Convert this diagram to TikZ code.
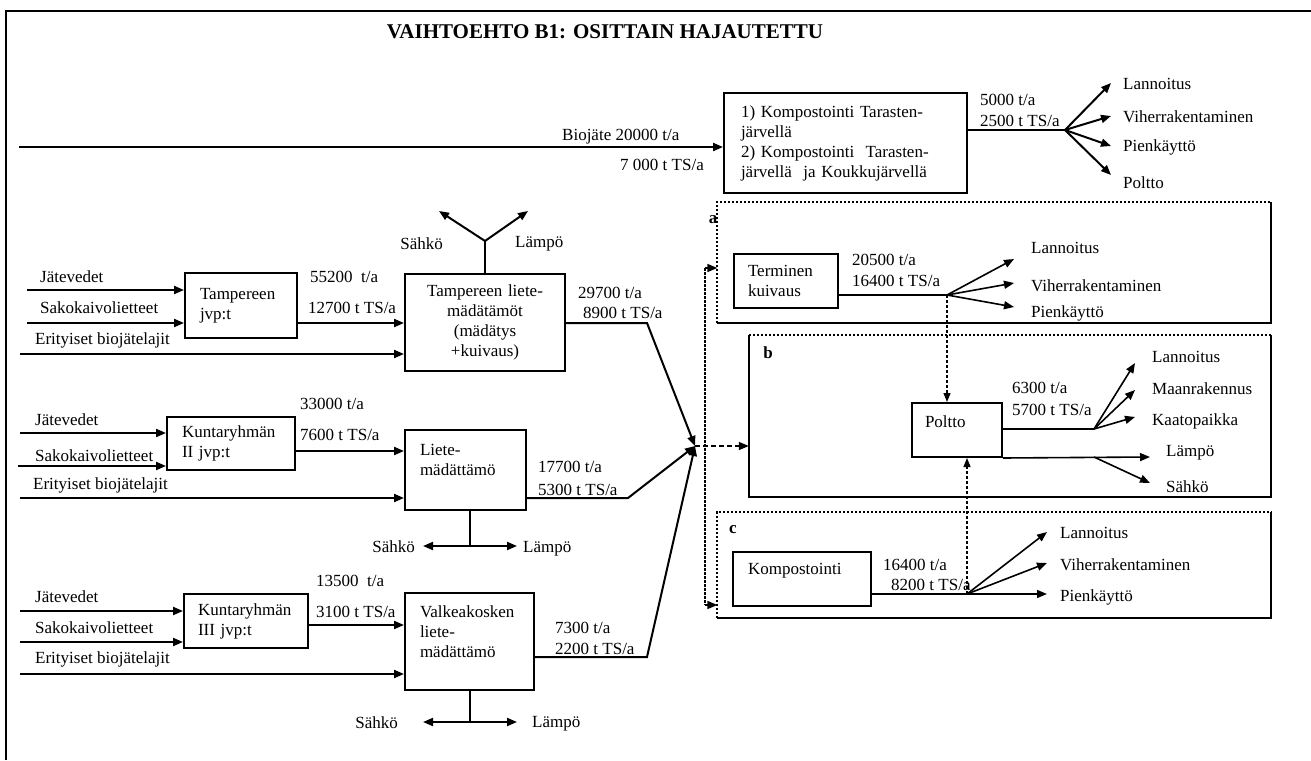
\documentclass[tikz,border=0pt]{standalone}
\usepackage{fontspec}
\setmainfont{Liberation Serif}
\usetikzlibrary{arrows.meta}
\newcommand{\lbl}{\fontsize{17}{20}\selectfont}
\tikzset{
  box/.style={draw, line width=2pt, inner ysep=0pt, font=\lbl, align=left},
  frm/.style={draw=none, inner sep=0pt},
  ln/.style={line width=2pt},
  fline/.style={line width=1.8pt},
  arr/.style={line width=2pt, -{Triangle[length=10pt,width=8pt]}},
  dbl/.style={line width=2pt, {Triangle[length=10pt,width=8pt]}-{Triangle[length=10pt,width=8pt]}},
  thin arr/.style={line width=1.6pt, -{Triangle[length=10pt,width=8pt]}},
  txt/.style={font=\lbl, inner sep=0pt},
  dots/.style={line width=1.8pt, dash pattern=on 2.5pt off 1.5pt},
  dot arr/.style={line width=1.2pt, dash pattern=on 3pt off 2pt, -{Triangle[length=9pt,width=7pt]}},
  dash arr/.style={line width=1.5pt, dash pattern=on 5pt off 3pt, -{Triangle[length=10pt,width=8pt]}},
}
\begin{document}
\begin{tikzpicture}[x=1pt,y=-1pt]
\useasboundingbox (0,0) rectangle (1311,760);
\draw[line width=2.5pt] (6,760) -- (6,11) -- (1311,11);
\node[font=\fontsize{21}{24}\selectfont\bfseries, inner sep=0pt] (title) at (605,32) {VAIHTOEHTO B1: OSITTAIN HAJAUTETTU};

% biojate
\node[box, minimum width=243, minimum height=100, text width=209, inner xsep=17] (komp) at (845.5,143)
  {1) Kompostointi Tarasten-\\järvellä\\2) Kompostointi \ Tarasten-\\järvellä \ ja Koukkujärvellä};
\coordinate (bio) at (19,147);
\draw[arr] (bio) -- (bio -| komp.west);
\node[txt, anchor=west] (bio1) at (562,137) {Biojäte 20000 t/a};
\node[txt, anchor=east] (bio2) at (704,165) {7 000 t TS/a};
\coordinate (ft) at (1065,130);
\draw[ln] (ft -| komp.east) -- (ft);
\node[txt, anchor=west] (ft1) at (980,100) {5000 t/a};
\node[txt, anchor=west] (ft2) at (980,121) {2500 t TS/a};
\coordinate (fta) at (1111,83);
\coordinate (ftb) at (1111,116);
\coordinate (ftc) at (1111,146);
\coordinate (ftd) at (1111,175);
\draw[arr] (ft) -- (fta);
\draw[arr] (ft) -- (ftb);
\draw[arr] (ft) -- (ftc);
\draw[arr] (ft) -- (ftd);
\node[txt, anchor=west] (fla) at (1123,84) {Lannoitus};
\node[txt, anchor=west] (flb) at (1123,117) {Viherrakentaminen};
\node[txt, anchor=west] (flc) at (1123,147) {Pienkäyttö};
\node[txt, anchor=west] (fld) at (1123,183) {Poltto};

% tampere
\node[box, minimum width=112, minimum height=65, text width=82, inner xsep=15] (tjvp) at (241,305.5) {Tampereen\\jvp:t};
\node[box, minimum width=160, minimum height=97, text width=150, inner xsep=5, align=center] (tliete) at (485,322.5)
  {Tampereen liete-\\mädätämöt\\(mädätys\\+kuivaus)};
\coordinate (tj) at (27,290);
\coordinate (ts) at (27,323);
\coordinate (te) at (20,354);
\draw[arr] (tj) -- (tj -| tjvp.west);
\draw[arr] (ts) -- (ts -| tjvp.west);
\draw[arr] (te) -- (te -| tliete.west);
\draw[arr] (tjvp.east |- ts) -- (ts -| tliete.west);
\node[txt, anchor=west] (tjl) at (40,277) {Jätevedet};
\node[txt, anchor=west] (tsl) at (40,308) {Sakokaivolietteet};
\node[txt, anchor=west] (tel) at (35,340) {Erityiset biojätelajit};
\node[txt, anchor=west] (tm1) at (310,277) {55200 \ t/a};
\node[txt, anchor=west] (tm2) at (308,308) {12700 t TS/a};
\coordinate (tst) at (485,241);
\coordinate (tsa) at (439,211);
\coordinate (tsb) at (528,211);
\draw[ln] (tliete.north) -- (tst);
\draw[arr] (tst) -- (tsa);
\draw[arr] (tst) -- (tsb);
\node[txt, anchor=east] (tsah) at (443,244) {Sähkö};
\node[txt, anchor=west] (tlam) at (515,244) {Lämpö};
\node[txt, anchor=west] (to1) at (578,293) {29700 t/a};
\node[txt, anchor=west] (to2) at (583,313) {8900 t TS/a};

% kuntaryhma II
\node[box, minimum width=128, minimum height=53, text width=98, inner xsep=15] (k2) at (231,443.5) {Kuntaryhmän\\II jvp:t};
\node[box, minimum width=121, minimum height=80, text width=91, inner xsep=15] (liete2) at (465.5,470) {Liete-\\mädättämö\\\mbox{}};
\coordinate (k2j) at (20,433);
\coordinate (k2s) at (18,466);
\coordinate (k2e) at (20,498);
\coordinate (k2o) at (0,451);
\draw[arr] (k2j) -- (k2j -| k2.west);
\draw[arr] (k2s) -- (k2s -| k2.west);
\draw[arr] (k2e) -- (k2e -| liete2.west);
\draw[arr] (k2.east |- k2o) -- (liete2.west |- k2o);
\node[txt, anchor=west] (k2jl) at (35,420) {Jätevedet};
\node[txt, anchor=west] (k2sl) at (35,456) {Sakokaivolietteet};
\node[txt, anchor=west] (k2el) at (33,485) {Erityiset biojätelajit};
\node[txt, anchor=west] (k2m1) at (300,404) {33000 t/a};
\node[txt, anchor=west] (k2m2) at (300,435) {7600 t TS/a};
\coordinate (s2) at (470,546);
\coordinate (s2l) at (423,546);
\coordinate (s2r) at (517,546);
\draw[ln] (s2 |- liete2.south) -- (s2);
\draw[dbl] (s2l) -- (s2r);
\node[txt, anchor=east] (s2sah) at (415,547) {Sähkö};
\node[txt, anchor=west] (s2lam) at (523,549) {Lämpö};
\node[txt, anchor=west] (l2o1) at (538,467) {17700 t/a};
\node[txt, anchor=west] (l2o2) at (538,490) {5300 t TS/a};

% kuntaryhma III
\node[box, minimum width=124, minimum height=54, text width=96, inner xsep=14] (k3) at (246,621) {Kuntaryhmän\\III jvp:t};
\node[box, minimum width=129, minimum height=97, text width=99, inner xsep=15] (valk) at (469.5,641.5) {Valkeakosken\\liete-\\mädättämö\\\mbox{}};
\coordinate (k3j) at (20,611);
\coordinate (k3s) at (20,642);
\coordinate (k3e) at (20,674);
\coordinate (k3o) at (0,625);
\draw[arr] (k3j) -- (k3j -| k3.west);
\draw[arr] (k3s) -- (k3s -| k3.west);
\draw[arr] (k3e) -- (k3e -| valk.west);
\draw[arr] (k3.east |- k3o) -- (valk.west |- k3o);
\node[txt, anchor=west] (k3jl) at (35,597) {Jätevedet};
\node[txt, anchor=west] (k3sl) at (35,628) {Sakokaivolietteet};
\node[txt, anchor=west] (k3el) at (35,659) {Erityiset biojätelajit};
\node[txt, anchor=west] (k3m1) at (316,581) {13500 \ t/a};
\node[txt, anchor=west] (k3m2) at (316,612) {3100 t TS/a};
\coordinate (s3) at (470,722);
\coordinate (s3l) at (423,722);
\coordinate (s3r) at (517,722);
\draw[ln] (s3 |- valk.south) -- (s3);
\draw[dbl] (s3l) -- (s3r);
\node[txt, anchor=east] (s3sah) at (398,723) {Sähkö};
\node[txt, anchor=west] (s3lam) at (532,724) {Lämpö};
\node[txt, anchor=west] (vo1) at (555,628) {7300 t/a};
\node[txt, anchor=west] (vo2) at (555,649) {2200 t TS/a};

% kokoaminen
\coordinate (jn) at (695,446);
\coordinate (o1) at (647,323);
\coordinate (o2) at (628,498);
\coordinate (o3) at (647,657);
\draw[arr] (tliete.east |- o1) -- (o1) -- (jn);
\draw[arr] (liete2.east |- o2) -- (o2) -- (jn);
\draw[arr] (valk.east |- o3) -- (o3) -- (jn);

% vaihtoehdot a, b, c
\node[frm, minimum width=553.5, minimum height=121] (boxa) at (994.25,262.5) {};
\node[frm, minimum width=522, minimum height=162] (boxb) at (1010,416) {};
\node[frm, minimum width=553.5, minimum height=106] (boxc) at (994.25,565) {};
\draw[fline] (boxa.north east) -- (boxa.south east) -- (boxa.south west);
\draw[dots] (boxa.south west) -- (boxa.north west) -- (boxa.north east);
\draw[fline] (boxb.north west) -- (boxb.south west) -- (boxb.south east) -- (boxb.north east);
\draw[dots] (boxb.north west) -- (boxb.north east);
\draw[fline] (boxc.north east) -- (boxc.south east) -- (boxc.south west);
\draw[dots] (boxc.south west) -- (boxc.north west) -- (boxc.north east);
\node[txt, font=\lbl\bfseries] (la) at (713,220) {a};
\node[txt, font=\lbl\bfseries] (lb) at (768,353) {b};
\node[txt, font=\lbl\bfseries] (lc) at (733,530) {c};

\coordinate (va) at (705,268);
\coordinate (vc) at (705,605);
\draw[dots] (va) -- (vc);
\draw[thin arr] (va) -- (va -| boxa.west);
\draw[thin arr] (vc) -- (vc -| boxc.west);
\draw[dash arr] (jn) -- (jn -| boxb.west);

% a
\node[box, minimum width=104, minimum height=54, text width=76, inner xsep=14] (term) at (786,281) {Terminen\\kuivaus};
\coordinate (fa) at (947,295);
\draw[fline] (fa -| term.east) -- (fa);
\node[txt, anchor=west] (fa1) at (852,260) {20500 t/a};
\node[txt, anchor=west] (fa2) at (852,281) {16400 t TS/a};
\coordinate (faa) at (1014,259);
\coordinate (fab) at (1014,283);
\coordinate (fac) at (1014,307);
\draw[thin arr] (fa) -- (faa);
\draw[thin arr] (fa) -- (fab);
\draw[thin arr] (fa) -- (fac);
\node[txt, anchor=west] (fala) at (1031,248) {Lannoitus};
\node[txt, anchor=west] (falb) at (1031,286) {Viherrakentaminen};
\node[txt, anchor=west] (falc) at (1031,313) {Pienkäyttö};

% b
\node[box, minimum width=90, minimum height=54, text width=64, inner xsep=13] (poltto) at (957,430) {Poltto\\[-4pt]\mbox{}};
\draw[dot arr] (fa) -- (fa |- poltto.north);
\coordinate (fb) at (1094,429);
\draw[fline] (fb -| poltto.east) -- (fb);
\node[txt, anchor=west] (fb1) at (1012,388) {6300 t/a};
\node[txt, anchor=west] (fb2) at (1012,410) {5700 t TS/a};
\coordinate (fba) at (1135,363);
\coordinate (fbb) at (1135,390);
\coordinate (fbc) at (1135,417);
\draw[thin arr] (fb) -- (fba);
\draw[thin arr] (fb) -- (fbb);
\draw[thin arr] (fb) -- (fbc);
\node[txt, anchor=west] (fbla) at (1152,357) {Lannoitus};
\node[txt, anchor=west] (fblb) at (1152,389) {Maanrakennus};
\node[txt, anchor=west] (fblc) at (1152,421) {Kaatopaikka};
\coordinate (fe) at (1094,457);
\coordinate (fel) at (1150,457);
\coordinate (fes) at (1150,483);
\draw[thin arr] (poltto.south east) -- (fel);
\draw[thin arr] (fe) -- (fes);
\node[txt, anchor=west] (fell) at (1166,453) {Lämpö};
\node[txt, anchor=west] (fesl) at (1166,487) {Sähkö};

% c
\node[box, minimum width=138, minimum height=54, text width=108, inner xsep=15] (kompc) at (802,579) {Kompostointi\\\mbox{}};
\coordinate (fc) at (967,594);
\coordinate (fcc) at (1047,594);
\coordinate (fca) at (1047,532);
\coordinate (fcb) at (1047,563);
\draw[thin arr] (fcc -| kompc.east) -- (fcc);
\draw[thin arr] (fc) -- (fca);
\draw[thin arr] (fc) -- (fcb);
\draw[dot arr] (fc) -- (fc |- poltto.south);
\node[txt, anchor=west] (fc1) at (883,565) {16400 t/a};
\node[txt, anchor=west] (fc2) at (891,585) {8200 t TS/a};
\node[txt, anchor=west] (fcla) at (1060,533) {Lannoitus};
\node[txt, anchor=west] (fclb) at (1060,565) {Viherrakentaminen};
\node[txt, anchor=west] (fclc) at (1060,597) {Pienkäyttö};
\end{tikzpicture}
\end{document}
